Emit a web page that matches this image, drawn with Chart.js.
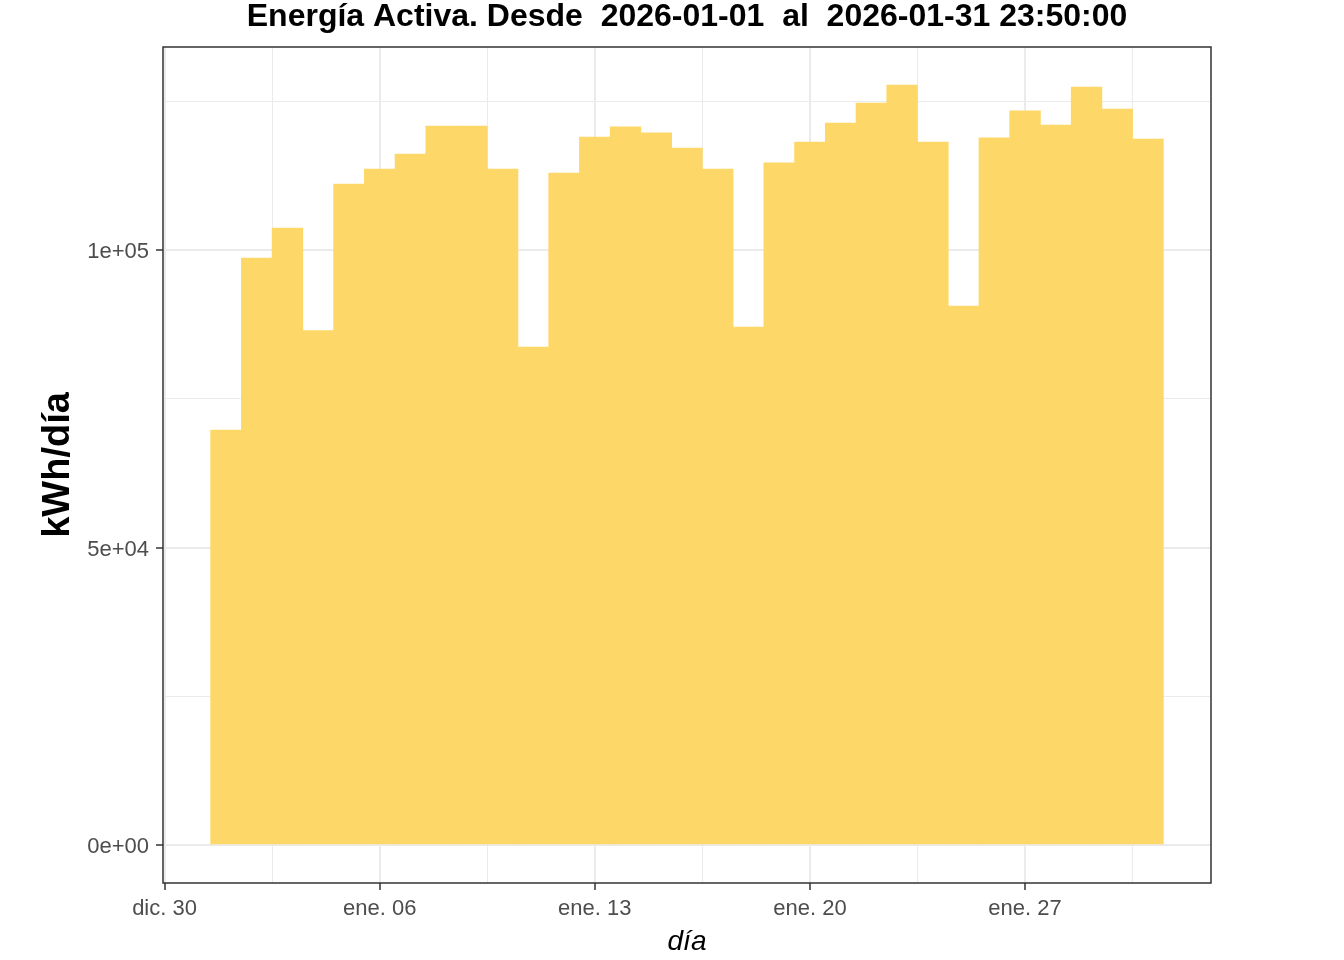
<!DOCTYPE html>
<html>
<head>
<meta charset="utf-8">
<title>Energía Activa</title>
<script src="https://cdn.jsdelivr.net/npm/chart.js@4"></script>
<style>
  html, body { margin: 0; padding: 0; background: #fff; }
  canvas { display: block; }
</style>
</head>
<body>
<canvas id="grafico" width="1344" height="960"></canvas>
<script>
// energía activa diaria, enero 2026 (kWh/día)
const dias = [
    '2026-01-01', '2026-01-02', '2026-01-03', '2026-01-04', '2026-01-05', '2026-01-06', '2026-01-07',
    '2026-01-08', '2026-01-09', '2026-01-10', '2026-01-11', '2026-01-12', '2026-01-13', '2026-01-14',
    '2026-01-15', '2026-01-16', '2026-01-17', '2026-01-18', '2026-01-19', '2026-01-20', '2026-01-21',
    '2026-01-22', '2026-01-23', '2026-01-24', '2026-01-25', '2026-01-26', '2026-01-27', '2026-01-28',
    '2026-01-29', '2026-01-30', '2026-01-31'
];
const energia = [
    69750, 98650, 103700, 86450, 111100, 113600, 116150,
    120850, 120850, 113600, 83700, 112950, 119000, 120700,
    119700, 117150, 113600, 87050, 114650, 118150, 121350,
    124700, 127750, 118150, 90600, 118850, 123400, 121000,
    127400, 123700, 118650
];

// marcas del eje x (fechas) y sus etiquetas
const ticksFechas = ['2025-12-30', '2026-01-06', '2026-01-13', '2026-01-20', '2026-01-27'];
const ticksEtiquetas = ['dic. 30', 'ene. 06', 'ene. 13', 'ene. 20', 'ene. 27'];

// marcas del eje y
const ticksY = [0, 50000, 100000];
const ticksYEtiquetas = ['0e+00', '5e+04', '1e+05'];

const titulo = 'Energía Activa. Desde  2026-01-01  al  2026-01-31 23:50:00';

Chart.defaults.font.family = '"Liberation Sans", Arial, sans-serif';

// fecha -> número de días desde la primera marca
function numDia(fecha) {
    let p = fecha.split('-');
    let q = ticksFechas[0].split('-');
    return (Date.UTC(+p[0], p[1] - 1, +p[2]) - Date.UTC(+q[0], q[1] - 1, +q[2])) / 86400000;
}

let xs = dias.map(numDia);
let puntos = xs.map((x, i) => ({ x: x, y: energia[i] }));

// rango como ggplot: 5% de expansión
let xMin = xs[0] - 0.5, xMax = xs[xs.length - 1] + 0.5;
let xExp = (xMax - xMin) * 0.05;
xMin -= xExp; xMax += xExp;
let yTop = Math.max(...energia);
let yMin = -yTop * 0.05, yMax = yTop * 1.05;

// marcas principales y secundarias (a mitad de camino)
let xMayores = ticksFechas.map(numDia);
let pasoX = xMayores[1] - xMayores[0];
let xMenores = xMayores.map(v => v + pasoX / 2).filter(v => v > xMin && v < xMax);
let xTodos = xMayores.concat(xMenores).sort((a, b) => a - b);

let pasoY = ticksY[1] - ticksY[0];
let yMenores = ticksY.map(v => v + pasoY / 2).filter(v => v > yMin && v < yMax);
let yTodos = ticksY.concat(yMenores).sort((a, b) => a - b);

function esMayor(lista, v) {
    return lista.some(m => Math.abs(m - v) < 1e-6);
}

const bordePanel = {
    id: 'bordePanel',
    afterDatasetsDraw(chart) {
        let a = chart.chartArea;
        let ctx = chart.ctx;
        ctx.save();
        ctx.strokeStyle = '#333333';
        ctx.lineWidth = 1.5;
        ctx.strokeRect(a.left, a.top, a.right - a.left, a.bottom - a.top);
        ctx.restore();
    }
};

let ctx = document.getElementById('grafico').getContext('2d');

new Chart(ctx, {
    type: 'bar',
    data: {
        datasets: [{
            data: puntos,
            backgroundColor: '#FDD868',
            borderWidth: 0,
            barPercentage: 1,
            categoryPercentage: 1
        }]
    },
    options: {
        responsive: false,
        animation: false,
        layout: { padding: { left: 0, right: 133, top: 0, bottom: 0 } },
        plugins: {
            legend: { display: false },
            tooltip: { enabled: false },
            title: {
                display: true,
                text: titulo,
                fullSize: false,
                color: '#000000',
                font: { size: 32, weight: 'bold', lineHeight: 1 },
                padding: { top: 1, bottom: 14 }
            }
        },
        scales: {
            x: {
                type: 'linear',
                offset: false,
                bounds: 'data',
                min: xMin,
                max: xMax,
                afterBuildTicks: s => { s.ticks = xTodos.map(v => ({ value: v })); },
                afterFit: s => { s.height = 77; },
                border: { display: false },
                grid: {
                    offset: false,
                    color: '#EBEBEB',
                    lineWidth: c => esMayor(xMayores, c.tick.value) ? 2 : 1,
                    tickColor: c => esMayor(xMayores, c.tick.value) ? '#333333' : 'rgba(0,0,0,0)',
                    tickWidth: 1.5,
                    tickLength: 7
                },
                ticks: {
                    autoSkip: false,
                    maxRotation: 0,
                    minRotation: 0,
                    padding: 6,
                    color: '#4D4D4D',
                    font: { size: 22 },
                    callback: v => {
                        let i = xMayores.findIndex(m => Math.abs(m - v) < 1e-6);
                        return i >= 0 ? ticksEtiquetas[i] : '';
                    }
                },
                title: {
                    display: true,
                    text: 'día',
                    color: '#000000',
                    font: { size: 28, style: 'italic', lineHeight: 1.2 },
                    padding: { top: 0, bottom: 1 }
                }
            },
            y: {
                min: yMin,
                max: yMax,
                bounds: 'data',
                afterBuildTicks: s => { s.ticks = yTodos.map(v => ({ value: v })); },
                afterFit: s => { s.width = 163; },
                border: { display: false },
                grid: {
                    color: '#EBEBEB',
                    lineWidth: c => esMayor(ticksY, c.tick.value) ? 2 : 1,
                    tickColor: c => esMayor(ticksY, c.tick.value) ? '#333333' : 'rgba(0,0,0,0)',
                    tickWidth: 1.5,
                    tickLength: 7
                },
                ticks: {
                    autoSkip: false,
                    padding: 7,
                    labelOffset: 2,
                    color: '#4D4D4D',
                    font: { size: 22 },
                    callback: v => {
                        let i = ticksY.findIndex(m => Math.abs(m - v) < 1e-6);
                        return i >= 0 ? ticksYEtiquetas[i] : '';
                    }
                },
                title: {
                    display: true,
                    text: 'kWh/día',
                    color: '#000000',
                    font: { size: 38, weight: 'bold', lineHeight: 1.2 },
                    padding: { top: 36, bottom: 0 }
                }
            }
        }
    },
    plugins: [bordePanel]
});
</script>
</body>
</html>
